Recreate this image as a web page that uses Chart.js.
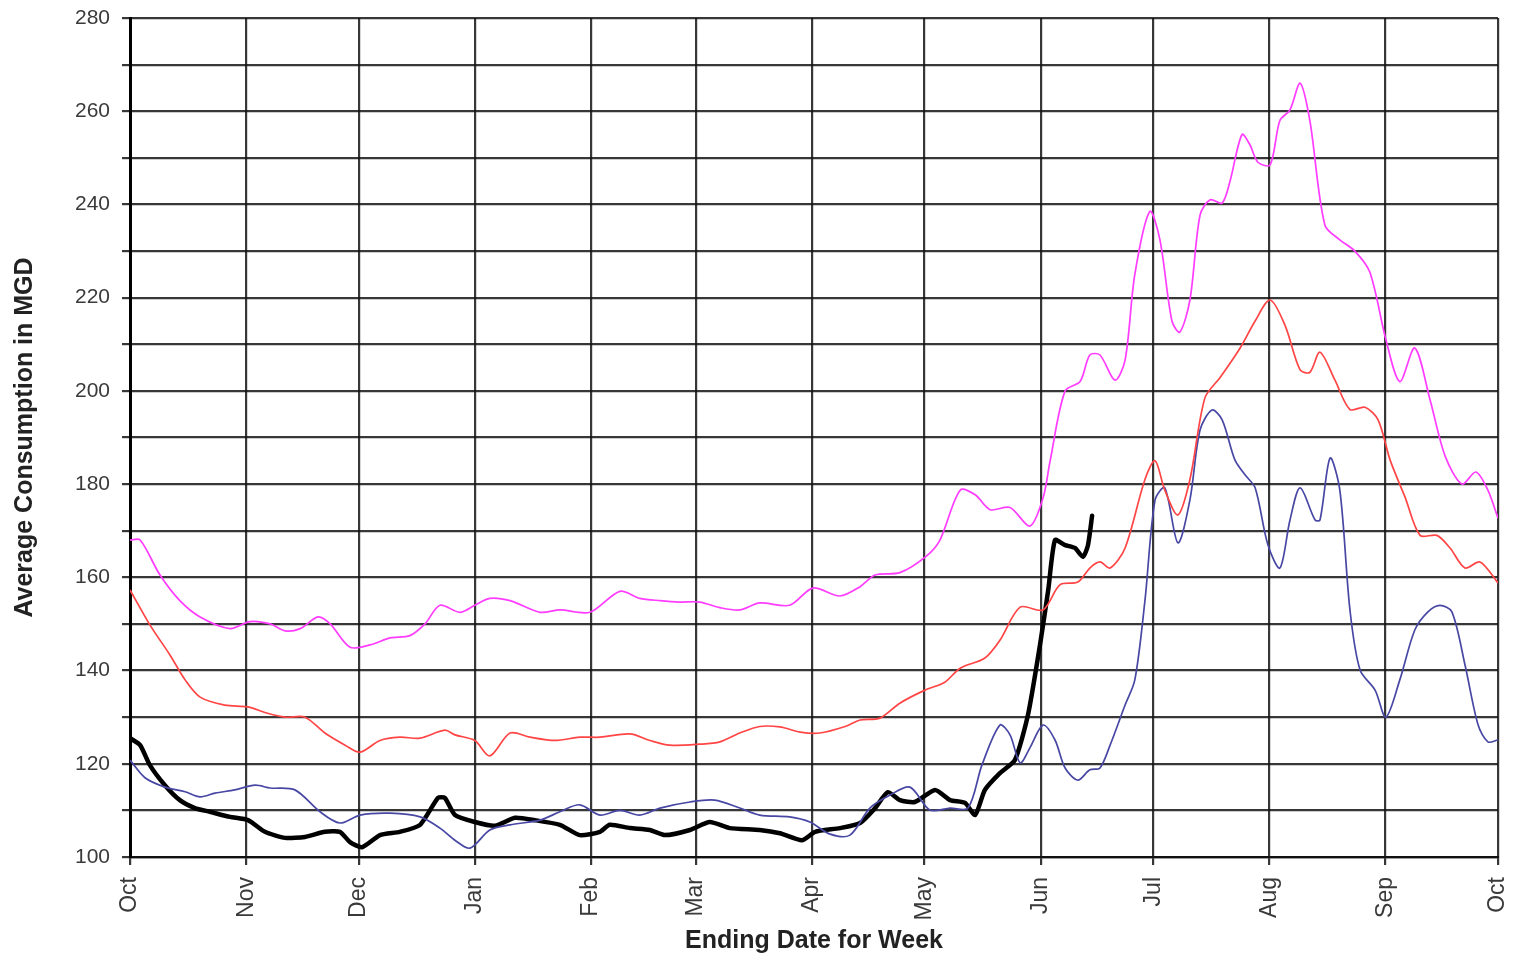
<!DOCTYPE html>
<html>
<head>
<meta charset="utf-8">
<script src="https://cdn.jsdelivr.net/npm/chart.js@4.4.1/dist/chart.umd.min.js"></script>
<style>
  html, body { margin: 0; padding: 0; background: #fff; }
  #wrap { width: 1518px; height: 956px; position: relative; }
</style>
</head>
<body>
<div id="wrap"><canvas id="usageChart"></canvas></div>
<script>
// month boundaries, days counted from Oct 1
const monthDays = [0, 31, 61, 92, 123, 151, 182, 212, 243, 273, 304, 335, 365];
const monthNames = ['Oct', 'Nov', 'Dec', 'Jan', 'Feb', 'Mar', 'Apr', 'May', 'Jun', 'Jul', 'Aug', 'Sep', 'Oct'];

// maximum week (magenta)
const maxDays = [0, 2.7, 8, 13.3, 18.7, 26.7, 32, 37.4, 41.4, 45.4, 50.2, 53.4, 58.7, 64, 69.4, 74.7, 78.7, 82.7, 88, 92, 96, 101.4, 109.4, 114.7, 122.7, 130.7, 136, 141.4, 146.7, 152, 157.4, 162.7, 168, 176, 182.2, 189.4, 194.8, 198.8, 205.4, 212.4, 216.1, 221.5, 225.5, 229.5, 234.8, 240.1, 243.6, 245.5, 249.5, 253.5, 256.1, 258.8, 262.8, 265.5, 268.1, 272.1, 274.8, 278, 280.1, 282.8, 285.5, 288.2, 291.4, 293.5, 296.7, 298.8, 301, 304.2, 306.8, 309.5, 312.2, 314.8, 318.8, 322.8, 326.8, 330.8, 335.1, 338.8, 342.8, 346.9, 350.9, 355.4, 359.1, 362.3, 365];
const maxVals = [168, 168, 160.5, 155, 151.5, 149, 150.5, 150, 148.5, 149, 151.5, 150, 145, 145.5, 147, 147.5, 150, 154, 152.5, 154, 155.5, 155, 152.5, 153, 152.5, 157, 155.5, 155, 154.7, 154.7, 153.5, 153, 154.5, 154, 157.7, 156, 158, 160.5, 161, 164.5, 168, 178.7, 177.7, 174.5, 175, 171, 177, 185, 200, 202, 207.7, 207.7, 202.3, 206.6, 225, 238.5, 232.4, 215, 212.6, 219.5, 237.7, 241, 240.3, 245, 255, 252.8, 249, 248.5, 258, 260.3, 266, 258, 235.6, 232.4, 230, 225.5, 211, 202, 209.2, 198, 186, 180, 182.6, 178.7, 172.7];

// average week (red)
const avgDays = [0, 5.3, 10.7, 14.7, 18.7, 25.3, 31.5, 36, 41.4, 46.7, 52, 57.4, 61.4, 66.7, 72, 77.4, 84, 86.7, 92, 96, 101.4, 106.7, 113.4, 120, 125.4, 133.4, 138.7, 144, 152, 157.4, 162.7, 168, 173.4, 178.8, 184, 190.8, 194.8, 200.1, 205.4, 212.1, 217.4, 221.5, 228.1, 232.1, 237.5, 243.6, 248.1, 252.9, 256.1, 258.8, 261.5, 265.5, 270.8, 273.5, 276.1, 279.6, 282.8, 286.8, 290.8, 296.2, 300.2, 304.2, 308.2, 312.2, 314.8, 317.5, 321.5, 325.5, 329.5, 333, 336.2, 340.2, 344.2, 348.7, 352.2, 356.2, 360.2, 365];
const avgVals = [157.3, 149.8, 143.3, 138, 134.3, 132.6, 132.2, 131, 130, 130, 126.6, 124, 122.5, 125, 125.7, 125.5, 127.2, 126.2, 125, 121.7, 126.6, 125.7, 125, 125.7, 125.7, 126.4, 125, 124, 124.2, 124.7, 126.6, 128, 127.9, 126.8, 126.6, 128, 129.4, 129.8, 133, 135.8, 137.5, 140.5, 142.7, 146.5, 153.6, 153, 158.4, 159, 162, 163.3, 162, 166.3, 181, 185, 178.7, 173.4, 181, 198.5, 202.8, 209.2, 215, 219.5, 214, 204.5, 204, 208.3, 202.3, 196, 196.5, 193.8, 185.2, 177.2, 169, 169, 166.3, 162, 163.3, 158.8];

// minimum week (navy)
const minDays = [0, 4, 9.3, 14.7, 18.7, 22.7, 28, 33.4, 37.4, 44, 50.7, 56, 61.4, 69.4, 77.4, 82.7, 86.7, 90.7, 96, 101.4, 109.4, 114.7, 120, 125.4, 130.7, 136, 141.4, 149.4, 156, 162.7, 168, 176, 181.4, 186.8, 192.1, 197.4, 202.8, 208.1, 213.4, 218.8, 223.6, 227.3, 232.1, 234.8, 237.5, 240.1, 243.6, 246.8, 249.5, 252.9, 256.1, 258.8, 261.5, 265.5, 268.1, 270.8, 273.5, 276.1, 279.6, 282.8, 285.5, 288.7, 291.4, 294.8, 297.5, 300.2, 303.6, 306.8, 309.5, 312.2, 316.2, 317.5, 320.2, 322.8, 325.5, 328.2, 332.2, 335.1, 338.8, 342.8, 346.3, 349.5, 352.7, 356.2, 359.7, 362.3, 365];
const minVals = [120.8, 117, 115, 114, 112.9, 113.7, 114.4, 115.4, 114.8, 114.4, 109.7, 107.3, 109, 109.4, 108.6, 106.2, 103.6, 101.9, 105.8, 106.9, 107.9, 109.7, 111.2, 109, 110, 109, 110.5, 111.8, 112.2, 110.5, 109, 108.6, 107.5, 104.9, 104.7, 110.5, 113.3, 115, 110.1, 110.5, 110.5, 119.7, 128.3, 126.2, 120.2, 123.4, 128.3, 125.1, 119.1, 116.5, 118.7, 119.1, 124, 132.6, 138, 155, 176.6, 179.2, 167.4, 176.6, 191.6, 195.9, 193.8, 185.2, 182, 179.2, 167, 162, 172.3, 179.2, 172.3, 172.3, 185.6, 178.7, 153, 140.1, 135.8, 130, 138, 148.7, 152.6, 154, 152.6, 141.2, 128.3, 124.7, 125.1];

// current year (black)
const curDays = [0, 2.7, 5.3, 9.3, 13.3, 17.3, 21.3, 26.7, 31.5, 36, 41.4, 46.7, 52, 56, 58.7, 61.9, 66.7, 72, 77.4, 82.2, 84, 86.7, 92, 97.4, 102.7, 108, 114.7, 120, 125.4, 128, 133.4, 138.7, 142.7, 149.4, 154.7, 160, 168, 173.4, 179.3, 182.8, 189.4, 194.8, 198.8, 202.2, 205.4, 209.4, 214.8, 218.8, 222.8, 225.5, 228.1, 232.1, 236.1, 239.6, 242.8, 245, 246.8, 249.5, 252.1, 254.3, 255.6, 256.7];
const curVals = [125.5, 124, 119.7, 115.4, 112.2, 110.5, 109.7, 108.6, 107.9, 105.4, 104.1, 104.3, 105.4, 105.4, 103.2, 102.1, 104.7, 105.4, 106.9, 112.7, 112.7, 109, 107.5, 106.7, 108.4, 107.9, 106.9, 104.7, 105.4, 106.9, 106.2, 105.8, 104.7, 105.8, 107.5, 106.2, 105.8, 105.1, 103.6, 105.4, 106.2, 107.3, 110.5, 113.9, 112.2, 111.8, 114.4, 112.2, 111.6, 109, 114.4, 118, 120.8, 130.5, 145.5, 157.3, 168, 166.9, 166.3, 164.4, 166.9, 173.2];

// y ticks every 10, labelled every 20
const yMin = 100, yMax = 280, yStep = 10;

function pairs(xs, ys) {
    return xs.map((x, i) => ({ x: x, y: ys[i] }));
}

const fontFamily = "'Liberation Sans', Arial, sans-serif";

const ctx = document.getElementById('usageChart').getContext('2d');
const usageChart = new Chart(ctx, {
    type: 'line',
    data: {
        datasets: [
            {
                label: 'Maximum',
                data: pairs(maxDays, maxVals),
                borderColor: '#ff3cff',
                borderWidth: 1.7,
                tension: 0.3,
                pointRadius: 0
            },
            {
                label: 'Average',
                data: pairs(avgDays, avgVals),
                borderColor: '#ff4545',
                borderWidth: 1.7,
                tension: 0.3,
                pointRadius: 0
            },
            {
                label: 'Minimum',
                data: pairs(minDays, minVals),
                borderColor: '#4848a4',
                borderWidth: 1.7,
                tension: 0.3,
                pointRadius: 0
            },
            {
                label: 'Current',
                data: pairs(curDays, curVals),
                borderColor: '#000000',
                borderWidth: 4.5,
                borderJoinStyle: 'round',
                borderCapStyle: 'round',
                tension: 0.2,
                pointRadius: 0
            }
        ]
    },
    options: {
        responsive: true,
        maintainAspectRatio: false,
        animation: false,
        layout: { padding: { top: 18, right: 20, left: 0, bottom: 0 } },
        plugins: {
            legend: { display: false },
            tooltip: { enabled: false }
        },
        scales: {
            x: {
                type: 'linear',
                min: 0,
                max: 365,
                afterBuildTicks: function(scale) {
                    scale.ticks = monthDays.map(d => ({ value: d }));
                },
                afterFit: function(scale) {
                    scale.height = 99;
                    scale.paddingLeft = 0;
                    scale.paddingRight = 0;
                },
                ticks: {
                    autoSkip: false,
                    minRotation: 90,
                    maxRotation: 90,
                    padding: 12,
                    color: '#3a3a3a',
                    font: { family: fontFamily, size: 23 },
                    callback: function(value) {
                        const i = monthDays.indexOf(value);
                        return i >= 0 ? monthNames[i] : '';
                    }
                },
                grid: {
                    color: 'rgba(20,20,20,0.85)',
                    lineWidth: 2.2,
                    tickLength: 8
                },
                border: { color: '#111', width: 2.2 },
                title: {
                    display: true,
                    text: 'Ending Date for Week',
                    color: '#222',
                    padding: { top: 0, bottom: 0 },
                    font: { family: fontFamily, size: 25, weight: 'bold' }
                }
            },
            y: {
                min: yMin,
                max: yMax,
                afterFit: function(scale) {
                    scale.width = 130;
                    scale.paddingTop = 0;
                    scale.paddingBottom = 0;
                },
                ticks: {
                    stepSize: yStep,
                    padding: 12,
                    color: '#3a3a3a',
                    font: { family: fontFamily, size: 21 },
                    callback: function(value) {
                        return value % 20 === 0 ? value : '';
                    }
                },
                grid: {
                    color: 'rgba(20,20,20,0.85)',
                    lineWidth: 2.2,
                    tickLength: 8
                },
                border: { color: '#000', width: 3 },
                title: {
                    display: true,
                    text: 'Average Consumption in MGD',
                    color: '#222',
                    padding: { top: 10, bottom: 0 },
                    font: { family: fontFamily, size: 25, weight: 'bold' }
                }
            }
        }
    }
});
</script>
</body>
</html>
